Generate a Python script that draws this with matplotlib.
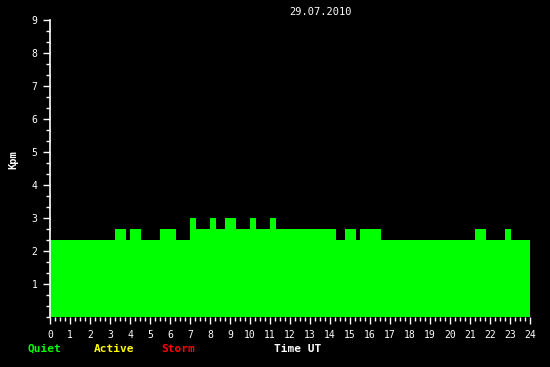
import matplotlib
matplotlib.use("Agg")
import matplotlib.pyplot as plt
from matplotlib.ticker import MultipleLocator

# step edges in hours UT and the Kpm level on each step
edges = [0, 3.25, 3.8, 4.0, 4.55, 5.5, 6.3, 7.0, 7.3, 8.0, 8.3, 8.75, 9.3,
         10.0, 10.3, 11.0, 11.3, 14.3, 14.75, 15.3, 15.5, 16.55, 21.25,
         21.8, 22.75, 23.05, 24.0]
kpm = [2.33, 2.67, 2.33, 2.67, 2.33, 2.67, 2.33, 3.0, 2.67, 3.0, 2.67, 3.0,
       2.67, 3.0, 2.67, 3.0, 2.67, 2.33, 2.67, 2.33, 2.67, 2.33, 2.67,
       2.33, 2.67, 2.33]
date = "29.07.2010"
hours = list(range(0, 25))
levels = list(range(1, 10))

plt.rcParams['font.family'] = ['DejaVu Sans Mono']

fig = plt.figure(figsize=(5.5, 3.67), dpi=100, facecolor='black')
ax = fig.add_axes([50 / 550, 1 - 317 / 367, 480 / 550, 297 / 367])
ax.set_facecolor('black')

ax.stairs(kpm, edges, fill=True, color='#00ff00', linewidth=0)

ax.set_xlim(0, 24)
ax.set_ylim(0, 9)
ax.set_xticks(hours)
ax.set_xticklabels([str(h) for h in hours])
ax.xaxis.set_minor_locator(MultipleLocator(0.25))
ax.set_yticks(levels)
ax.set_yticklabels([str(v) for v in levels])
ax.yaxis.set_minor_locator(MultipleLocator(1 / 3))

for s in ['top', 'right', 'bottom']:
    ax.spines[s].set_visible(False)
ax.spines['left'].set_color('white')
ax.spines['left'].set_linewidth(1.2)

ax.tick_params(axis='both', which='major', colors='white', labelsize=7,
               length=5, width=1)
ax.tick_params(axis='both', which='minor', colors='white', length=3, width=1)
ax.tick_params(axis='x', which='major', pad=4)
ax.tick_params(axis='y', which='major', pad=4)

fig.text(13 / 550, 1 - 160 / 367, "Kpm", color='white', fontsize=7.5,
         fontweight='bold', rotation=90, ha='center', va='center')
fig.text(320 / 550, 1 - 12 / 367, date, color='white', fontsize=7.5,
         ha='center', va='center')
fig.text(44 / 550, 1 - 349 / 367, "Quiet", color='#00ff00', fontsize=8,
         fontweight='bold', ha='center', va='center')
fig.text(114 / 550, 1 - 349 / 367, "Active", color='#ffff00', fontsize=8,
         fontweight='bold', ha='center', va='center')
fig.text(178 / 550, 1 - 349 / 367, "Storm", color='#ff0000', fontsize=8,
         fontweight='bold', ha='center', va='center')
fig.text(298 / 550, 1 - 349 / 367, "Time UT", color='white', fontsize=8,
         fontweight='bold', ha='center', va='center')

fig.savefig("out.png", dpi=100, facecolor='black')
